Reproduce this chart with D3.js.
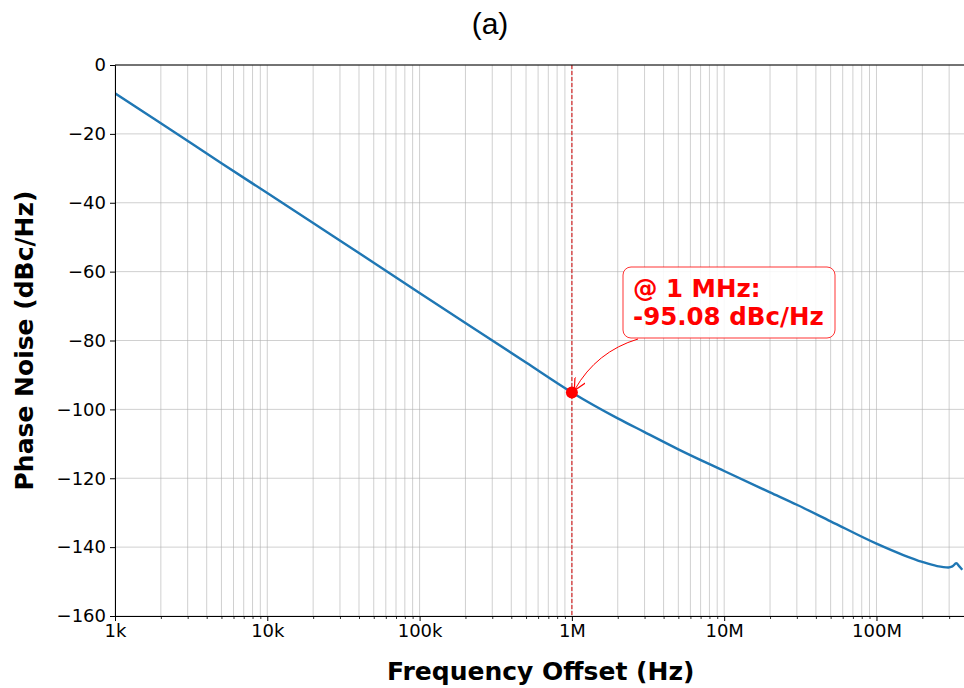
<!DOCTYPE html>
<html>
<head>
<meta charset="utf-8">
<script src="https://cdn.jsdelivr.net/npm/d3@7"></script>
<style>
  body { margin: 0; background: #fff; }
  svg { display: block; }
</style>
</head>
<body>
<svg id="chart" width="964" height="688"></svg>
<script>
// ---- data ----
const freqHz = [1e3, 2e3, 5e3, 1e4, 2e4, 5e4, 1e5, 2e5, 5e5, 1e6, 2e6, 3e6, 5e6, 1e7, 2e7, 3e7, 5e7, 1e8, 1.5e8, 2e8, 2.5e8, 2.96e8, 3.15e8, 3.34e8, 3.5e8, 3.66e8];
const phaseNoise = [-8.2, -16.9, -28.5, -37.2, -45.9, -57.4, -66.2, -74.9, -86.4, -95.08, -102.6, -106.6, -111.6, -117.9, -124.1, -127.7, -132.5, -139.0, -142.3, -144.3, -145.5, -145.9, -145.6, -144.7, -145.6, -146.6];
const yTicks = [0, -20, -40, -60, -80, -100, -120, -140, -160];
const xTicks = [1e3, 1e4, 1e5, 1e6, 1e7, 1e8];
const xTickLabels = ["1k", "10k", "100k", "1M", "10M", "100M"];
const markerFreq = 1e6;
const markerValue = -95.08;
const annotationLines = ["@ 1 MHz:", "-95.08 dBc/Hz"];
const titleText = "(a)";
const xLabel = "Frequency Offset (Hz)";
const yLabel = "Phase Noise (dBc/Hz)";

// ---- layout ----
const L = 115, R = 966.5, T = 65, B = 616;
const svg = d3.select("#chart");
const x = d3.scaleLog().domain([1e3, 3.9e8]).range([L, R]);
const y = d3.scaleLinear().domain([-160, 0]).range([B, T]);

const minorTicks = [];
for (let d = 3; d <= 8; d++) {
  for (let m = 1; m <= 9; m++) {
    const v = m * Math.pow(10, d);
    if (v >= 1e3 && v <= 3.9e8) minorTicks.push(v);
  }
}

const defs = svg.append("defs");
defs.append("clipPath").attr("id", "clip")
  .append("rect").attr("x", L).attr("y", T).attr("width", R - L).attr("height", B - T);

// grid
const grid = svg.append("g");
grid.selectAll("line.vg").data(minorTicks).join("line")
  .attr("x1", d => x(d)).attr("x2", d => x(d))
  .attr("y1", T).attr("y2", B)
  .attr("stroke", "#b0b0b0").attr("stroke-opacity", 0.75).attr("stroke-width", 0.8);
grid.selectAll("line.hg").data(yTicks).join("line")
  .attr("x1", L).attr("x2", R)
  .attr("y1", d => y(d)).attr("y2", d => y(d))
  .attr("stroke", "#b0b0b0").attr("stroke-opacity", 0.75).attr("stroke-width", 0.8);

// dashed vertical marker line
svg.append("line")
  .attr("x1", x(markerFreq)).attr("x2", x(markerFreq))
  .attr("y1", T).attr("y2", B)
  .attr("stroke", "#d62728").attr("stroke-width", 1.2)
  .attr("stroke-dasharray", "4,2");

// curve
const line = d3.line().x(d => x(d[0])).y(d => y(d[1])).curve(d3.curveMonotoneX);
svg.append("path")
  .datum(freqHz.map((f, i) => [f, phaseNoise[i]]))
  .attr("clip-path", "url(#clip)")
  .attr("d", line)
  .attr("fill", "none")
  .attr("stroke", "#1f77b4")
  .attr("stroke-width", 2.4)
  .attr("stroke-linejoin", "round");

// axes
const xAxis = d3.axisBottom(x).tickValues(xTicks)
  .tickFormat((d, i) => xTickLabels[i]).tickSize(5).tickPadding(3);
const xAxisMinor = d3.axisBottom(x).tickValues(minorTicks.filter(v => !xTicks.includes(v)))
  .tickFormat("").tickSize(3);
const yAxis = d3.axisLeft(y).tickValues(yTicks)
  .tickFormat(d => d < 0 ? "\u2212" + Math.abs(d) : String(d)).tickSize(5).tickPadding(4);

const gxm = svg.append("g").attr("transform", `translate(0,${B})`).call(xAxisMinor);
gxm.select(".domain").remove();
gxm.selectAll("line").attr("stroke", "#000").attr("stroke-width", 0.8);

const gx = svg.append("g").attr("transform", `translate(0,${B})`).call(xAxis);
gx.select(".domain").attr("stroke", "#000").attr("stroke-width", 1);
gx.selectAll("line").attr("stroke", "#000").attr("stroke-width", 1);
gx.selectAll("text").attr("font-family", "DejaVu Sans").attr("font-size", 18).attr("fill", "#000");

const gy = svg.append("g").attr("transform", `translate(${L},0)`).call(yAxis);
gy.select(".domain").attr("stroke", "#000").attr("stroke-width", 1);
gy.selectAll("line").attr("stroke", "#000").attr("stroke-width", 1);
gy.selectAll("text").attr("font-family", "DejaVu Sans").attr("font-size", 18).attr("fill", "#000");

// top spine
svg.append("line").attr("x1", L).attr("x2", R).attr("y1", T).attr("y2", T)
  .attr("stroke", "#000").attr("stroke-width", 1);

// marker point
const px = x(markerFreq), py = y(markerValue);
svg.append("circle").attr("cx", px).attr("cy", py).attr("r", 6).attr("fill", "#ff0000");

// annotation box
const bx = 623, by = 267, bw = 212, bh = 71;
svg.append("rect")
  .attr("x", bx).attr("y", by).attr("width", bw).attr("height", bh)
  .attr("rx", 8).attr("ry", 8)
  .attr("fill", "#ffffff").attr("fill-opacity", 0.85)
  .attr("stroke", "#ff0000").attr("stroke-opacity", 0.8).attr("stroke-width", 1);
svg.append("g").selectAll("text").data(annotationLines).join("text")
  .attr("x", bx + 10).attr("y", (d, i) => by + 30 + i * 28)
  .attr("font-family", "DejaVu Sans").attr("font-weight", "bold")
  .attr("font-size", 24.5).attr("fill", "#ff0000")
  .text(d => d);

// arrow (curved)
defs.append("marker").attr("id", "arrow")
  .attr("viewBox", "0 0 10 10").attr("refX", 9).attr("refY", 5)
  .attr("markerWidth", 12).attr("markerHeight", 12).attr("markerUnits", "userSpaceOnUse")
  .attr("orient", "auto")
  .append("path").attr("d", "M0,0 L10,5 L0,10").attr("fill", "none")
  .attr("stroke", "#ff0000").attr("stroke-width", 1);
const sx = 638, sy = 339, ex = px + 3, ey = py - 3;
svg.append("path")
  .attr("d", `M${sx},${sy} Q${(sx + ex) / 2 - 0.2 * (ey - sy)},${(sy + ey) / 2 + 0.2 * (ex - sx)} ${ex},${ey}`)
  .attr("fill", "none").attr("stroke", "#ff0000").attr("stroke-width", 1)
  .attr("marker-end", "url(#arrow)");

// labels
svg.append("text").attr("x", 490).attr("y", 34).attr("text-anchor", "middle")
  .attr("font-family", "Liberation Sans, Arial, sans-serif").attr("font-size", 30).attr("fill", "#000")
  .text(titleText);
svg.append("text").attr("x", (L + R) / 2).attr("y", 680).attr("text-anchor", "middle")
  .attr("font-family", "DejaVu Sans").attr("font-weight", "bold").attr("font-size", 25).attr("fill", "#000")
  .text(xLabel);
svg.append("text").attr("transform", `translate(33,${(T + B) / 2}) rotate(-90)`)
  .attr("text-anchor", "middle")
  .attr("font-family", "DejaVu Sans").attr("font-weight", "bold").attr("font-size", 25).attr("fill", "#000")
  .text(yLabel);
</script>
</body>
</html>
